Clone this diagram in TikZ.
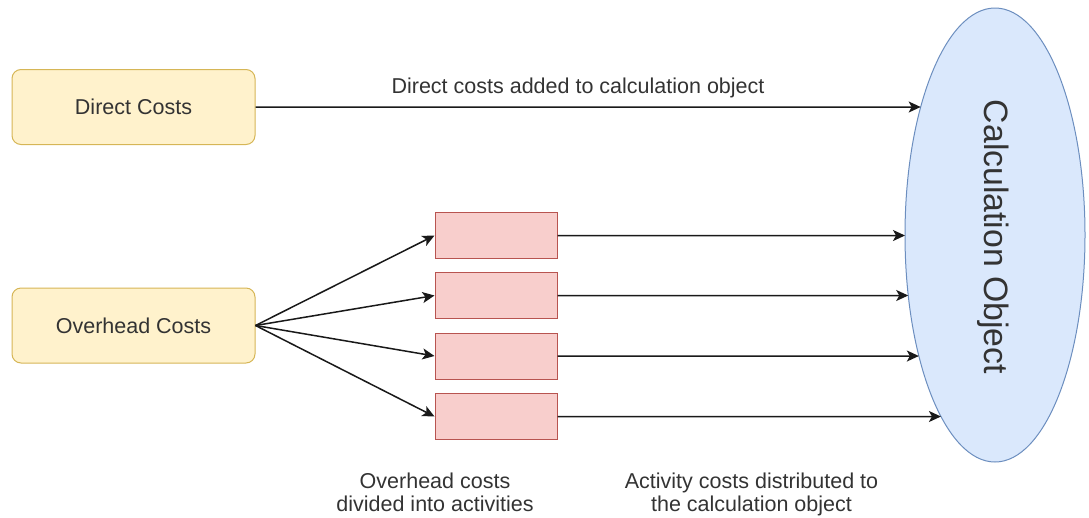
\documentclass[tikz,border=0pt]{standalone}
\usepackage{fontspec}
\setmainfont{Liberation Sans}
\usetikzlibrary{shapes.geometric,arrows.meta,intersections}
\definecolor{yfill}{HTML}{FFF2CC}
\definecolor{ystroke}{HTML}{D6B656}
\definecolor{rfill}{HTML}{F8CECC}
\definecolor{rstroke}{HTML}{B85450}
\definecolor{bfill}{HTML}{DAE8FC}
\definecolor{bstroke}{HTML}{6C8EBF}
\definecolor{txt}{HTML}{333333}
\begin{document}
\begin{tikzpicture}[x=1pt,y=-1pt,
  costbox/.style={draw=ystroke, fill=yfill, rounded corners=9pt, minimum width=243pt, minimum height=75pt, inner sep=0pt, line width=1pt, text=txt, font=\fontsize{21.5}{24}\selectfont},
  actbox/.style={draw=rstroke, fill=rfill, minimum width=122pt, minimum height=46pt, inner sep=0pt, line width=1pt},
  lbl/.style={text=txt, font=\fontsize{21.5}{23}\selectfont, inner sep=0pt, align=center},
  arr/.style={draw=black!90, line width=1.5pt, -{Stealth[length=12pt,width=11pt,inset=3pt]}}
]
\useasboundingbox (0,0) rectangle (1089,517);
\node[costbox] (direct) at (133.5,107) {Direct Costs};
\node[costbox] (overhead) at (133.5,325.5) {Overhead Costs};
\node[actbox] (a1) at (496,235.5) {};
\node[actbox] (a2) at (496,295.5) {};
\node[actbox] (a3) at (496,356) {};
\node[actbox] (a4) at (496,416.5) {};
\node[ellipse, draw=bstroke, fill=bfill, line width=1pt, minimum width=180pt, minimum height=454pt, inner sep=0pt] (obj) at (995,235) {};
\path[name path=objborder] (obj.center) ellipse [x radius=90, y radius=227];
\node[rotate=-90, text=txt, font=\fontsize{33.8}{40}\selectfont, inner sep=0pt] (objlabel) at (993,237) {Calculation Object};

\path[name path=hd] (direct.east) -- ++(700,0);
\path[name path=h1] (a1.east) -- ++(400,0);
\path[name path=h2] (a2.east) -- ++(400,0);
\path[name path=h3] (a3.east) -- ++(400,0);
\path[name path=h4] (a4.east) -- ++(400,0);
\path[name intersections={of=hd and objborder, by={ed}}];
\path[name intersections={of=h1 and objborder, by={e1}}];
\path[name intersections={of=h2 and objborder, by={e2}}];
\path[name intersections={of=h3 and objborder, by={e3}}];
\path[name intersections={of=h4 and objborder, by={e4}}];

\draw[arr] (direct.east) -- (ed);
\draw[arr] (a1.east) -- (e1);
\draw[arr] (a2.east) -- (e2);
\draw[arr] (a3.east) -- (e3);
\draw[arr] (a4.east) -- (e4);
\draw[arr] (overhead.east) -- (a1.west);
\draw[arr] (overhead.east) -- (a2.west);
\draw[arr] (overhead.east) -- (a3.west);
\draw[arr] (overhead.east) -- (a4.west);

\node[lbl, anchor=base] (dlabel) at (578,93) {Direct costs added to calculation object};
\node[lbl, anchor=base] (olabel) at (435,511) {Overhead costs\\divided into activities};
\node[lbl, anchor=base] (alabel) at (751.5,511) {Activity costs distributed to\\the calculation object};
\end{tikzpicture}
\end{document}
